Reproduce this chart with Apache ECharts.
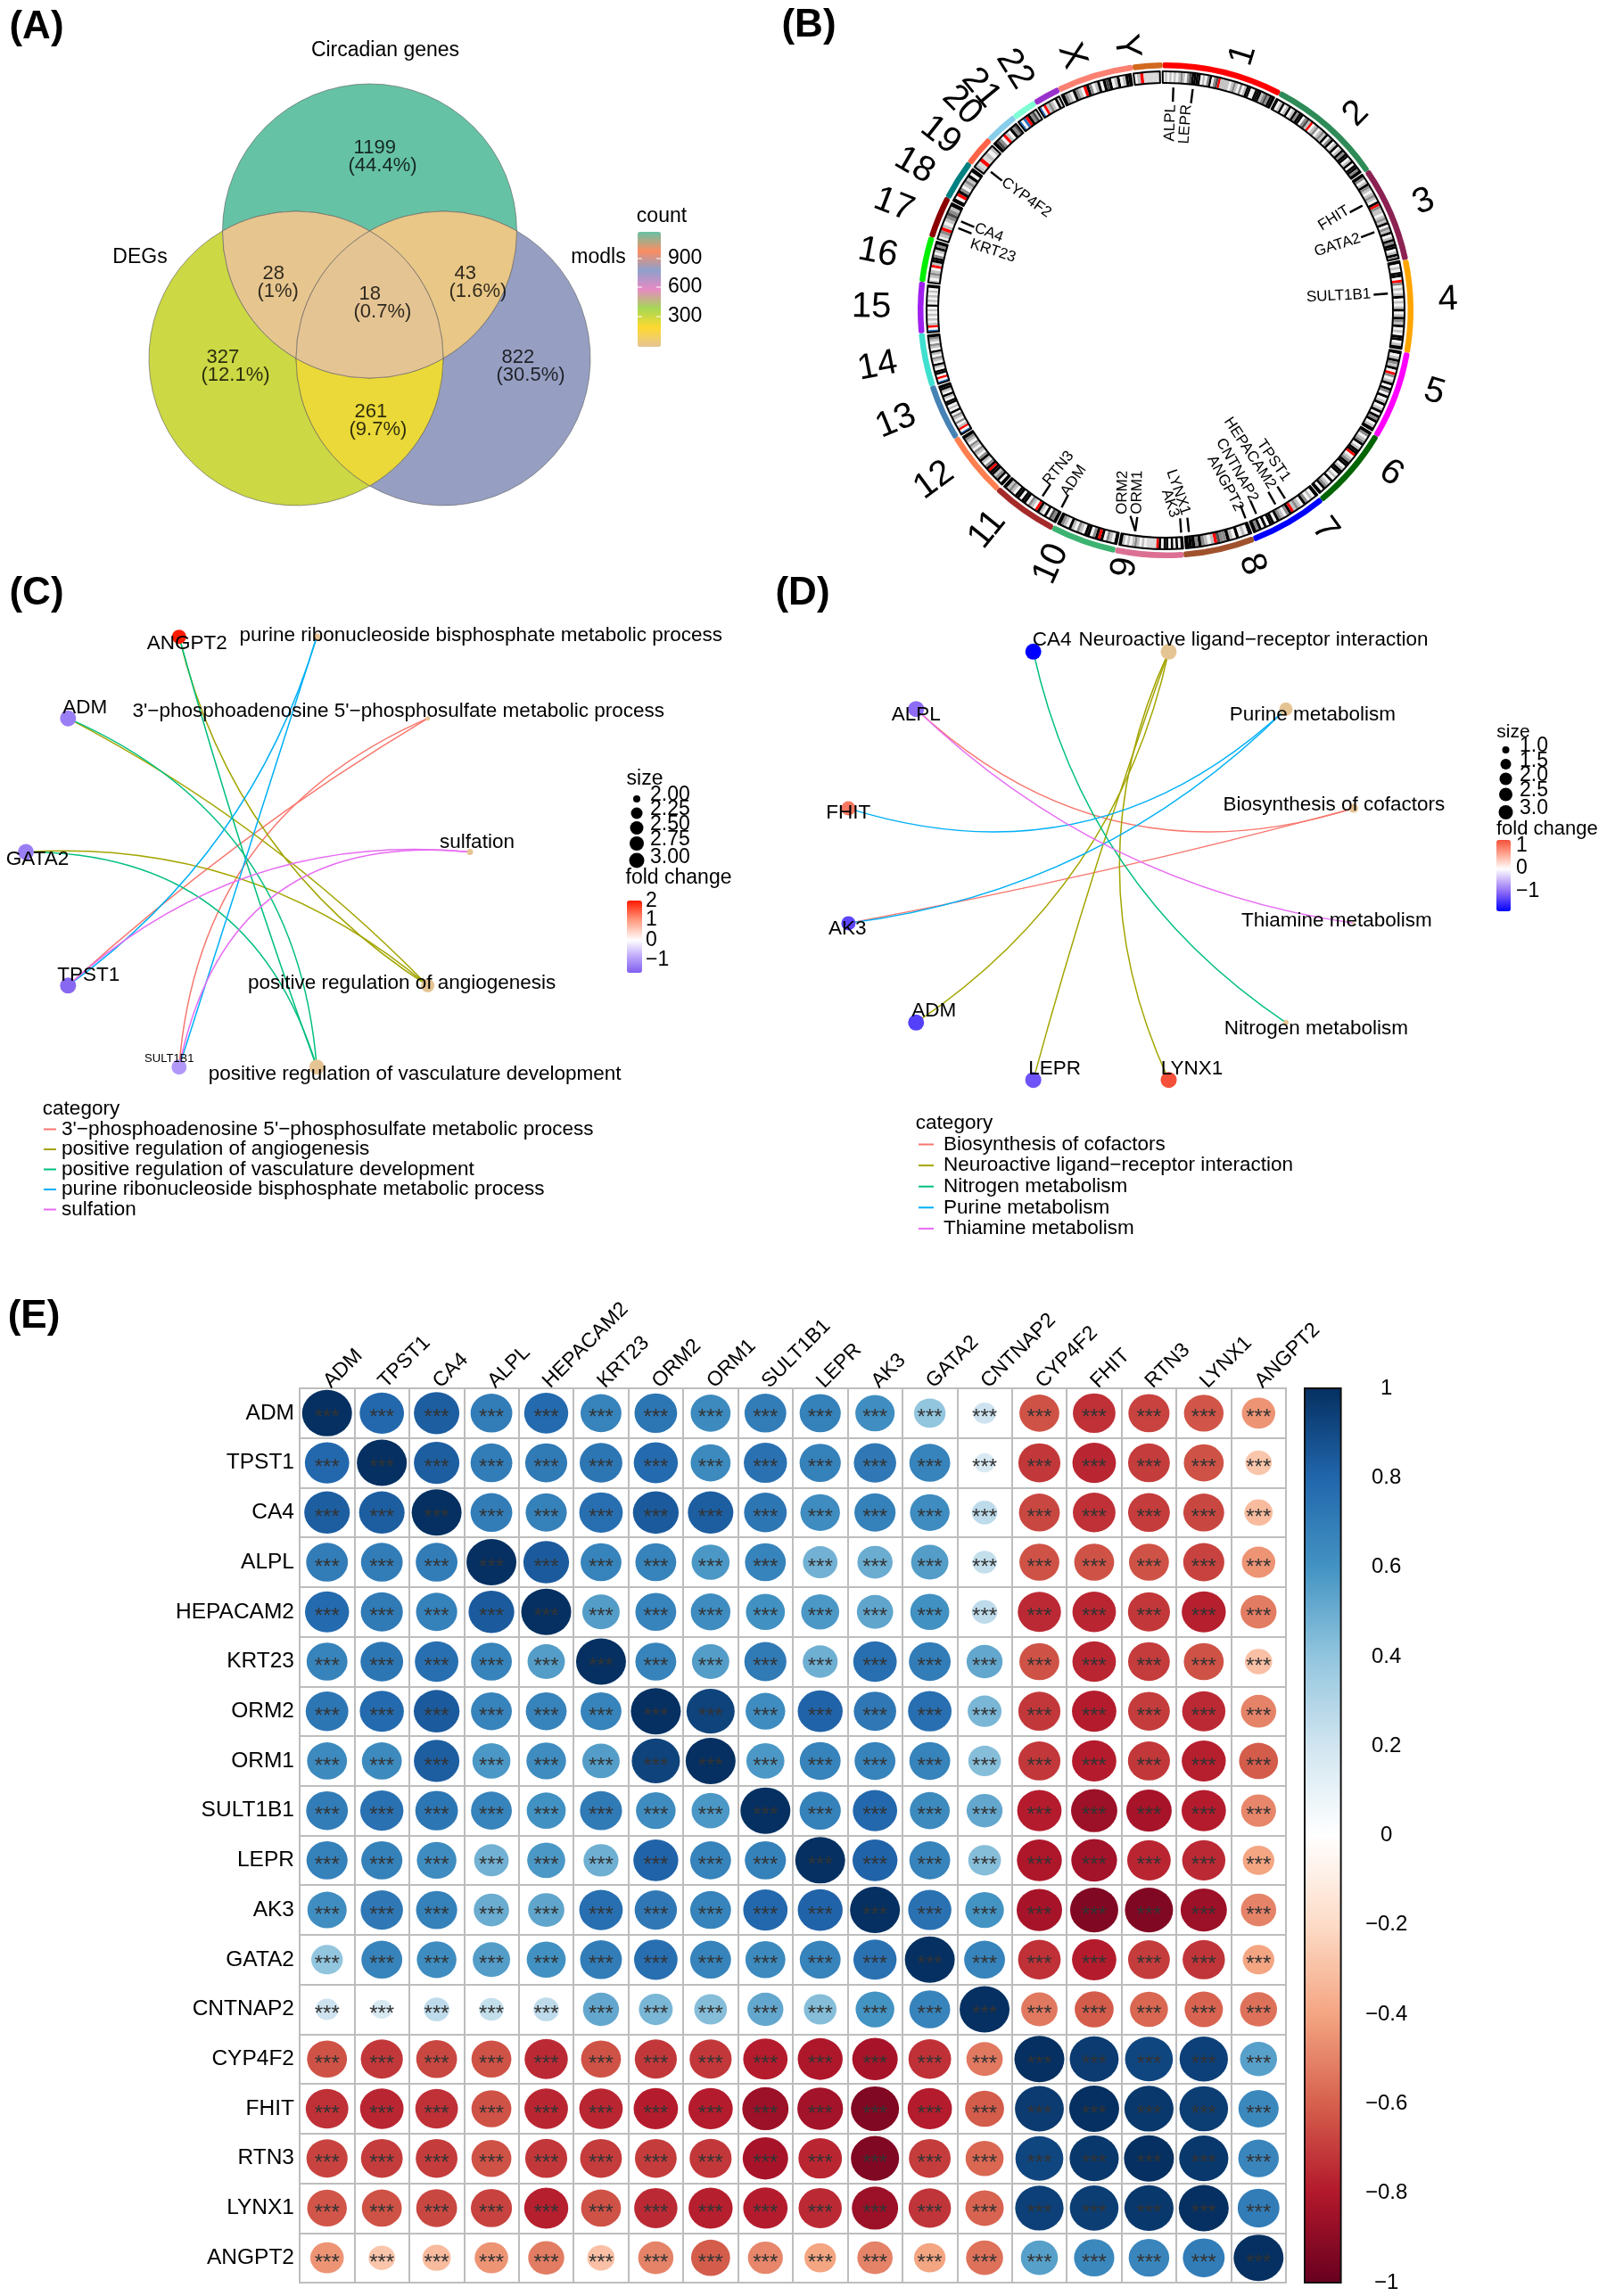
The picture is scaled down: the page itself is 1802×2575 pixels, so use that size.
<!DOCTYPE html>
<html><head><meta charset="utf-8">
<style>html,body{margin:0;padding:0;background:#fff}#c{width:1802px;height:2575px}</style>
<script src="https://cdn.jsdelivr.net/npm/echarts@6/dist/echarts.min.js"></script>
</head><body><div id="c"></div>
<script>
/* ---------- DATA ---------- */
// Panel A
const vennSets = ['Circadian genes','DEGs','modls'];
const vennCounts = [1199,327,822,28,43,261,18];
const vennPercents = ['44.4%','12.1%','30.5%','1%','1.6%','9.7%','0.7%'];
const countTicks = [900,600,300];
// Panel B
const chromNames = ['1','2','3','4','5','6','7','8','9','10','11','12','13','14','15','16','17','18','19','20','21','22','X','Y'];
const chromLengths = [249,242,198,190,181,171,159,145,138,134,135,133,114,107,102,90,83,80,59,64,47,51,156,57];
const chromBands = [
 'wlwlwlwlglwgdkkkkwlwgkwgdrllllwlglwgwlkkwwkkklgdgkk','kwlkwlkwlkgkkwgdlrwlgwlglkwgkwlkwlkgkkwlkwkkgk',
 'kgwlkglwlglwkrgllwlglkwglkwlkgkkwlkg','kwlwkkwrgwlwlkwlwlkwlkglkwlwkkwlk','kwlkglkwrgwlkwkgwkwlkwlkwkgkwlk',
 'kgwlgkwlkkrwlgkkwlkkwlwkwlgkwk','kwlwgkwlglrkgwlgkwkkwkwkgk','kwlwkwlkggdrlwlgkgkkk','kwkwkwkkwkrsssswlwlglwlwlk',
 'kwlgwkrkgwkkwlgwlkwlgk','kgdwkwlkrwlgwkkwkkwlglk','kwkglkkrkgwlkgwlgwlgwlgk','bwrlwgwlgwkwlwkkwlkwlkk',
 'bwrwkkwlkwlgwlkwlgwlgk','bwrlwlwlwlwkwlwlwlwk','lwlglwrlkkgwlkgk','wlgrlwlgdglk','kwrkgwlglkwk','lsrslwl','kdgwrlwkgd','bwbrkgdl','bwrlglwkl',
 'kglwkglwrkgwlkwkdkwlkwlkk','wlrsssss'];
const geneNames = ['ALPL','LEPR','FHIT','GATA2','SULT1B1','TPST1','HEPACAM2','CNTNAP2','ANGPT2','LYNX1','AK3','ORM1','ORM2','ADM','RTN3','CYP4F2','CA4','KRT23'];
const geneAngles = [2,7,62,69.5,85.7,147.6,150.5,156,159,174,176,187.8,187.8,207.8,213.5,308.4,293.5,291.6];
// Panel C
const cNames = ['sulfation',"3'\u2212phosphoadenosine 5'\u2212phosphosulfate metabolic process",'purine ribonucleoside bisphosphate metabolic process','ANGPT2','ADM','GATA2','TPST1','SULT1B1','positive regulation of vasculature development','positive regulation of angiogenesis'];
const cX = [1,.81,.31,-.31,-.81,-1,-.81,-.31,.31,.81];
const cY = [0,.59,.95,.95,.59,0,-.59,-.95,-.95,-.59];
const cFold = [null,null,null,2,-1.3,-1.3,-1.55,-1,null,null];
const cSizes = [7,5,8,16,18,18,18,17,17,15];
const cCategories = ["3'\u2212phosphoadenosine 5'\u2212phosphosulfate metabolic process",'positive regulation of angiogenesis','positive regulation of vasculature development','purine ribonucleoside bisphosphate metabolic process','sulfation'];
const cLinks = [[[6,1,.05],[7,1,.30]],[[3,9,-.2],[4,9,.08],[5,9,.2]],[[3,8,-.02],[4,8,.3],[5,8,.37]],[[6,2,-.17],[7,2,0]],[[6,0,.22],[7,0,.45]]];
// Panel D
const dNames = ['Biosynthesis of cofactors','Purine metabolism','Neuroactive ligand\u2212receptor interaction','CA4','ALPL','FHIT','AK3','ADM','LEPR','LYNX1','Nitrogen metabolism','Thiamine metabolism'];
const dX = [.97,.71,.26,-.26,-.71,-.97,-.97,-.71,-.26,.26,.71,.97];
const dY = [.26,.71,.97,.97,.71,.26,-.26,-.71,-.97,-.97,-.71,-.26];
const dFold = [null,null,null,-1.86,-1,1,-1.3,-1.35,-1.2,1.28,null,null];
const dSizes = [10,15,18,18,18,16,16,18,18,18,6,3];
const dCategories = ['Biosynthesis of cofactors','Neuroactive ligand\u2212receptor interaction','Nitrogen metabolism','Purine metabolism','Thiamine metabolism'];
const dLinks = [[[4,0,-.29],[6,0,-.02]],[[7,2,-.2],[8,2,.02],[9,2,.23]],[[3,10,-.2]],[[5,1,-.29],[6,1,-.17]],[[4,11,-.16]]];
// Panel E
const corrGenes = ['ADM','TPST1','CA4','ALPL','HEPACAM2','KRT23','ORM2','ORM1','SULT1B1','LEPR','AK3','GATA2','CNTNAP2','CYP4F2','FHIT','RTN3','LYNX1','ANGPT2'];
const corrMatrix = [
[1,.79,.83,.70,.78,.67,.73,.64,.70,.68,.62,.40,.21,-.64,-.73,-.68,-.63,-.45],
[.79,1,.83,.70,.71,.73,.78,.64,.75,.68,.72,.67,.17,-.71,-.76,-.70,-.64,-.28],
[.83,.83,1,.70,.68,.76,.84,.83,.73,.63,.68,.63,.26,-.67,-.73,-.70,-.67,-.32],
[.70,.70,.70,1,.84,.67,.67,.58,.67,.48,.50,.56,.24,-.64,-.64,-.64,-.68,-.45],
[.78,.71,.68,.84,1,.56,.67,.63,.61,.58,.53,.61,.26,-.75,-.76,-.71,-.78,-.52],
[.67,.73,.76,.67,.56,1,.67,.56,.71,.49,.76,.70,.52,-.64,-.76,-.70,-.64,-.30],
[.73,.78,.84,.67,.67,.67,1,.93,.63,.81,.72,.76,.46,-.71,-.79,-.70,-.75,-.50],
[.64,.64,.83,.58,.63,.56,.93,1,.58,.67,.67,.67,.43,-.71,-.79,-.71,-.78,-.61],
[.70,.75,.73,.67,.61,.71,.63,.58,1,.68,.79,.64,.52,-.79,-.86,-.83,-.79,-.49],
[.68,.68,.63,.48,.58,.49,.81,.67,.68,1,.81,.67,.43,-.81,-.84,-.76,-.75,-.40],
[.62,.72,.68,.50,.53,.76,.72,.67,.79,.81,1,.75,.60,-.83,-.93,-.93,-.86,-.50],
[.40,.67,.63,.56,.61,.70,.76,.67,.64,.67,.75,1,.67,-.73,-.79,-.70,-.72,-.40],
[.21,.17,.26,.24,.26,.52,.46,.43,.52,.43,.60,.67,1,-.53,-.61,-.58,-.59,-.55],
[-.64,-.71,-.67,-.64,-.75,-.64,-.71,-.71,-.79,-.81,-.83,-.73,-.53,1,.96,.92,.94,.55],
[-.73,-.76,-.73,-.64,-.76,-.76,-.79,-.79,-.86,-.84,-.93,-.79,-.61,.96,1,.97,.95,.65],
[-.68,-.70,-.70,-.64,-.71,-.70,-.70,-.71,-.83,-.76,-.93,-.70,-.58,.92,.97,1,.97,.66],
[-.63,-.64,-.67,-.68,-.78,-.64,-.75,-.78,-.79,-.75,-.86,-.72,-.59,.94,.95,.97,1,.70],
[-.45,-.28,-.32,-.45,-.52,-.30,-.50,-.61,-.49,-.40,-.50,-.40,-.55,.55,.65,.66,.70,1]];

/* ---------- LAYOUT / STYLE ---------- */
const FONT = '"Liberation Sans", Arial, sans-serif';
const hue5 = ['#F8766D','#A3A500','#00BF7D','#00B0F6','#E76BF3'];
const chromColors = ['#ff0000','#2e8b57','#8b2252','#ffa500','#ff00ff','#006400','#0000ff','#a0522d','#db7093','#3cb371','#a52a2a','#ff7f50','#4682b4','#40e0d0','#a020f0','#00ee00','#8b0000','#008080','#ff6347','#87ceeb','#7fffd4','#9932cc','#fa8072','#d2691e'];
const stain = {w:'#f2f2f2',l:'#c0c0c0',g:'#8a8a8a',d:'#4a4a4a',k:'#000000',s:'#d8d8d8',r:'#ff0000',b:'#2a70c0'};
const set2 = ['#e5c494','#ffd92f','#a6d854','#e78ac3','#8da0cb','#fc8d62','#66c2a5'];
const rdbu = ['#67001F','#B2182B','#D6604D','#F4A582','#FDDBC7','#FFFFFF','#D1E5F0','#92C5DE','#4393C3','#2166AC','#053061'];
const RC = [1307,348];           // ring centre
const chromLabelAngle=[16.9,44.1,67.2,87.9,106.9,125.8,144,161.2,189,204.3,219.1,233.7,247.6,259,270.6,281.3,291.2,300,307.9,315.2,320.3,328,339.8,351.5];
const chromLabelR=[299,307,314,317,315,312,304,301,292,312,317,322,327,329,330,329,327,325,320,324,324,319,304,299];

function stops(anchors){ // evenly spaced colour stops for a scale with an off-centre midpoint
  const lo=anchors[0][0], hi=anchors[anchors.length-1][0], out=[];
  for(let i=0;i<=48;i++){
    const v=lo+(hi-lo)*i/48; let j=0;
    while(j<anchors.length-2 && v>anchors[j+1][0]) j++;
    const t=(v-anchors[j][0])/(anchors[j+1][0]-anchors[j][0]);
    out.push(echarts.color.lerp(Math.max(0,Math.min(1,t)),[anchors[j][1],anchors[j+1][1]]));
  }
  return out;
}

const grids=[], xAxes=[], yAxes=[], series=[], visualMaps=[], legends=[], gfx=[];
function T(text,x,y,size,o){o=o||{};gfx.push({type:'text',x:x,y:y,z:20,silent:true,style:{text:text,font:(o.bold?'bold ':'')+size+'px '+FONT,fill:o.fill||'#000',textAlign:o.align||'center',textVerticalAlign:'middle'}});}
function dot(x,y,d){gfx.push({type:'circle',z:20,silent:true,shape:{cx:x,cy:y,r:d/2},style:{fill:'#000'}});}
function whiteTick(x0,x1,w,y){[[x0,x0+w],[x1-w,x1]].forEach(p=>gfx.push({type:'line',z:20,silent:true,shape:{x1:p[0],y1:y,x2:p[1],y2:y},style:{stroke:'#fff',lineWidth:1}}));}
function addGrid(l,t,w,h,xa,ya,extra){grids.push(Object.assign({left:l,top:t,width:w,height:h,containLabel:false},extra||{}));const i=grids.length-1;xAxes.push(Object.assign({gridIndex:i,show:false},xa));yAxes.push(Object.assign({gridIndex:i,show:false},ya));return i;}

/* panel letters */
T('(A)',41,31,44,{bold:1});T('(B)',907,29,44,{bold:1});T('(C)',41,666,44,{bold:1});T('(D)',900,666,44,{bold:1});T('(E)',38,1477,44,{bold:1});

/* ---------- A: Venn ---------- */
const gA=addGrid(167,94,495,473,{type:'value',min:-1.5,max:1.5},{type:'value',min:-1,max:1.866});
const V={A:[-1,.866],B:[1,.866],C:[0,-.866],P:[0,.866],Q:[-.5,0],S:[.5,0]};
// each region: start vertex then [vertex, large-arc, sweep] steps
const regionPaths=[
 ['A',['B',0,1],['P',0,0],['A',0,0]],
 ['A',['Q',0,0],['C',0,0],['A',1,1]],
 ['B',['C',1,1],['S',0,0],['B',0,0]],
 ['A',['P',0,1],['Q',0,0],['A',0,1]],
 ['B',['P',0,0],['S',0,1],['B',0,0]],
 ['Q',['S',0,0],['C',0,1],['Q',0,1]],
 ['P',['S',0,1],['Q',0,1],['P',0,1]]];
series.push({type:'custom',coordinateSystem:'cartesian2d',xAxisIndex:gA,yAxisIndex:gA,silent:true,animation:false,clip:false,z:2,
 dimensions:['x','y','count'],encode:{x:0,y:1},
 data:vennCounts.map(c=>[0,0,c]),
 renderItem:function(p,api){
  const r=api.size([1,0])[0], rp=regionPaths[p.dataIndex];
  const pt=k=>api.coord(V[k]);
  let d='M'+pt(rp[0]).join(' ');
  rp.slice(1).forEach(s=>{d+=' A'+r+' '+r+' 0 '+s[1]+' '+s[2]+' '+pt(s[0]).join(' ');});
  return {type:'path',shape:{pathData:d+' Z'},style:{fill:api.visual('color'),stroke:'rgba(90,90,90,0.6)',lineWidth:1}};
 }});
visualMaps.push({type:'continuous',show:true,seriesIndex:series.length-1,dimension:2,min:18,max:1199,left:715,top:260,itemWidth:26,itemHeight:129,padding:0,calculable:false,hoverLink:false,text:null,inRange:{color:stops(set2.map((c,i)=>[18+i*196.83,c]))}});
// anchor = left edge and vertical middle of each region's two-line label
const vennAnchorX=[391,226,557,289,504,392,397].map(x=>(x-415)/165), vennAnchorY=[176,411,411,316.5,316.5,471.5,340].map(y=>(402-y)/165);
series.push({type:'scatter',xAxisIndex:gA,yAxisIndex:gA,silent:true,animation:false,symbolSize:0,z:3,
 data:vennCounts.map((c,i)=>({value:[vennAnchorX[i],vennAnchorY[i]],name:' '+c+'\n('+vennPercents[i]+')'})),
 label:{show:true,position:'right',distance:0,formatter:'{b}',fontFamily:FONT,fontSize:22,lineHeight:20,color:'#000',align:'left'}});
T(vennSets[0],432,57,23);T(vennSets[1],157,289,23);T(vennSets[2],671,289,23);
T('count',742,243,23);
countTicks.forEach((v,i)=>{const y=[290,322,355][i];T(String(v),749,y,23,{align:'left'});whiteTick(715,741,5,y);});

/* ---------- B: ideogram ---------- */
const GAP=6, pieBase={type:'pie',center:RC,silent:true,animation:false,startAngle:90.7,clockwise:true,avoidLabelOverlap:false,label:{show:false},labelLine:{show:false},showEmptyCircle:false,minAngle:0,z:3};
series.push(Object.assign({},pieBase,{radius:[271.5,278],itemStyle:{borderRadius:2},
 data:chromNames.map((n,i)=>({name:n,value:chromLengths[i]+GAP,itemStyle:{color:chromColors[i]}}))}));
const bandData=[], outlineData=[];
chromNames.forEach((n,i)=>{
 const s=chromBands[i];
 s.split('').forEach((ch,j)=>bandData.push({name:n+'_'+j,value:chromLengths[i]/s.length,itemStyle:{color:stain[ch]}}));
 bandData.push({name:'gap'+i,value:GAP,itemStyle:{color:'transparent'}});
 outlineData.push({name:n,value:chromLengths[i],itemStyle:{color:'transparent',borderColor:'#000',borderWidth:2}});
 outlineData.push({name:'gap'+i,value:GAP,itemStyle:{color:'transparent'}});
});
series.push(Object.assign({},pieBase,{radius:[255,268],data:bandData}));
series.push(Object.assign({},pieBase,{radius:[255,268],data:outlineData,z:4}));
const polar={center:RC,radius:400};
const angleAxis={type:'value',min:0,max:360,startAngle:90,clockwise:true,show:false};
const radiusAxis={type:'value',min:0,max:400,show:false};
// chromosome labels
series.push({type:'custom',coordinateSystem:'polar',silent:true,animation:false,clip:false,z:5,
 data:chromLabelAngle.map((a,i)=>[chromLabelR[i],a]),
 renderItem:function(p,api){
  const a=chromLabelAngle[p.dataIndex],pt=api.coord([chromLabelR[p.dataIndex],a]);
  const rot=(a<180?90-a:270-a)*Math.PI/180;
  return {type:'text',x:pt[0],y:pt[1],rotation:rot,style:{text:chromNames[p.dataIndex],font:'40px '+FONT,fill:'#000',textAlign:'center',textVerticalAlign:'middle'}};
 }});
// gene ticks + labels (label anchor radius/angle and text rotation)
const geneTickInner=[2,7,62,69.5,85.7,147.6,150.5,156,159,174,176,187.8,189.7,207.8,213.5,308.4,293.5,291.6];
const geneLabelAngle=[1.5,5.9,61.1,69.6,85.5,144.4,148.9,155,159.7,174.3,177.5,188,192,208.8,214.6,308.5,293.5,288.9];
const geneLabelR=[231,232,234,232.6,231,234,232,236,239,230,232,231,234,236,236,233,233,231];
const geneLabelRot=[88,86,31.8,17.7,3,-55,-56.6,-60.4,-62,-71,-72,89,89,56,50.7,-35.7,-21,-18];
series.push({type:'custom',coordinateSystem:'polar',silent:true,animation:false,clip:false,z:5,
 data:geneAngles.map(a=>[250,a]),
 renderItem:function(p,api){
  const i=p.dataIndex,o=api.coord([250,geneAngles[i]]),n=api.coord([234,geneTickInner[i]]),t=api.coord([geneLabelR[i],geneLabelAngle[i]]);
  const right=geneLabelAngle[i]<180;
  return {type:'group',children:[
   {type:'line',shape:{x1:o[0],y1:o[1],x2:n[0],y2:n[1]},style:{stroke:'#000',lineWidth:2.4}},
   {type:'text',x:t[0],y:t[1],rotation:geneLabelRot[i]*Math.PI/180,style:{text:geneNames[i],font:'17px '+FONT,fill:'#000',textAlign:right?'right':'left',textVerticalAlign:'middle'}}
  ]};
 }});

/* ---------- C & D: cnet plots ---------- */
function cnet(names,X,Y,fold,sizes,cats,links,box,labelOff,smallLabels,vm){
 const g=addGrid(box[0],box[1],box[2],box[3],{type:'value',min:-1,max:1},{type:'value',min:-1,max:1});
 cats.forEach((c,ci)=>series.push({type:'graph',name:c,coordinateSystem:'cartesian2d',xAxisIndex:g,yAxisIndex:g,layout:'none',silent:true,animation:false,z:2,
  symbolSize:0,label:{show:false},itemStyle:{color:hue5[ci]},lineStyle:{color:hue5[ci],width:1.5,opacity:1},edgeSymbol:['none','none'],
  data:names.map((n,i)=>({name:n,value:[X[i],Y[i]]})),
  links:links[ci].map(l=>({source:names[l[0]],target:names[l[1]],lineStyle:{curveness:l[2]}}))}));
 const pt=i=>({value:[X[i],Y[i],fold[i]],name:names[i],symbolSize:sizes[i],
   label:{offset:labelOff[i],fontSize:smallLabels[i]||22.5}});
 const idx=names.map((_,i)=>i);
 series.push({type:'scatter',xAxisIndex:g,yAxisIndex:g,silent:true,animation:false,z:3,clip:false,
  symbolSize:(v,p)=>sizes[names.indexOf(p.name)],itemStyle:{opacity:1},
  data:idx.filter(i=>fold[i]!=null).map(pt),
  label:{show:true,position:'inside',formatter:'{b}',color:'#000',fontFamily:FONT,fontSize:22.5}});
 vm.seriesIndex=series.length-1; vm.dimension=2; visualMaps.push(vm);
 series.push({type:'scatter',xAxisIndex:g,yAxisIndex:g,silent:true,animation:false,z:3,clip:false,
  symbolSize:(v,p)=>sizes[names.indexOf(p.name)],itemStyle:{color:'#e5c494',opacity:1},
  data:idx.filter(i=>fold[i]==null).map(pt),
  label:{show:true,position:'inside',formatter:'{b}',color:'#000',fontFamily:FONT,fontSize:22.5}});
}
const cOff=[[8,-11],[-33,-8],[184,-1],[9,8],[19,-12],[13,8],[23,-12],[-11,-9],[110,8],[-29,-3]];
cnet(cNames,cX,cY,cFold,cSizes,cCategories,cLinks,[29,701.5,498,508],cOff,{7:13},
 {type:'continuous',show:true,min:-1.65,max:2,left:703,top:1010,itemWidth:17,itemHeight:81,padding:0,calculable:false,hoverLink:false,text:null,
  inRange:{color:stops([[-1.65,'#7f5ff0'],[-.8,'#c0aafa'],[0,'#ffffff'],[1,'#ff9a80'],[2,'#ff1a00']])}});
const dOff=[[-22,-4],[30,7],[95,-13],[21,-13],[0,7],[0,5],[-1,6],[20,-13],[24,-12],[26,-12],[34,7],[-19,-3]];
cnet(dNames,dX,dY,dFold,dSizes,dCategories,dLinks,[942.6,723.4,584,495.2],dOff,{},
 {type:'continuous',show:true,min:-1.86,max:1.28,left:1678,top:942,itemWidth:16,itemHeight:80,padding:0,calculable:false,hoverLink:false,text:null,
  inRange:{color:stops([[-1.86,'#0000ff'],[-1,'#8f6cf5'],[-.5,'#c8b4fa'],[0,'#ffffff'],[.7,'#ffa08a'],[1.28,'#f4503a']])}});
const legBase={orient:'vertical',selectedMode:false,icon:'rect',itemHeight:2,padding:0,itemStyle:{borderWidth:0}};
legends.push(Object.assign({},legBase,{data:cCategories,left:49,top:1255,itemWidth:14,itemGap:-0.5,textStyle:{fontFamily:FONT,fontSize:22.5,color:'#000',padding:[0,0,0,1]}}));
legends.push(Object.assign({},legBase,{data:dCategories,left:1030,top:1272,itemWidth:17,itemGap:0.6,textStyle:{fontFamily:FONT,fontSize:22.5,color:'#000',padding:[0,0,0,6]}}));
T('category',91,1244,22.5);T('category',1070,1260,22.5);
// size + fold-change legends
T('size',723,874,23);T('fold change',761,984.5,23);
['2.00','2.25','2.50','2.75','3.00'].forEach((s,i)=>{T(s,729,[892,908,925,942,962][i],23,{align:'left'});dot(714,[896,912,928.5,946,965][i],[8,13,15,16,17][i]);});
['2','1','0','\u22121'].forEach((s,i)=>{const y=[1011,1032,1055,1077][i];T(s,724,y,23,{align:'left'});});
T('size',1697,821,21);T('fold change',1678,929.5,22,{align:'left'});
['1.0','1.5','2.0','2.5','3.0'].forEach((s,i)=>{T(s,1704,[837,854,870,887,907][i],23,{align:'left'});dot(1688.5,[841,857,873.5,891,911][i],[8,12,14,15,16][i]);});
['1','0','\u22121'].forEach((s,i)=>{T(s,1700,[949,973.5,1000][i],23,{align:'left'});});

/* ---------- E: correlation ---------- */
const gE=addGrid(336,1557,1106,1003,
 {show:true,type:'category',position:'top',data:corrGenes,axisTick:{show:false},axisLine:{lineStyle:{color:'#bdbdbd',width:2}},splitLine:{show:true,interval:0,lineStyle:{color:'#bdbdbd',width:2}},
  axisLabel:{interval:0,rotate:-45,margin:4,align:'left',verticalAlign:'middle',fontFamily:FONT,fontSize:23,color:'#000'}},
 {show:true,type:'category',inverse:true,data:corrGenes,axisTick:{show:false},axisLine:{lineStyle:{color:'#bdbdbd',width:2}},splitLine:{show:true,interval:0,lineStyle:{color:'#bdbdbd',width:2}},
  axisLabel:{interval:0,margin:6,fontFamily:FONT,fontSize:24.5,color:'#000'}},
 {show:true,borderColor:'#bdbdbd',borderWidth:2,backgroundColor:'transparent'});
const corrData=[];corrMatrix.forEach((row,y)=>row.forEach((v,x)=>corrData.push([x,y,v])));
series.push({type:'scatter',xAxisIndex:gE,yAxisIndex:gE,silent:true,animation:false,z:3,data:corrData,
 symbolSize:d=>{const s=Math.sqrt(Math.abs(d[2]));return [56*s,52*s];},itemStyle:{opacity:1},
 label:{show:true,position:'inside',formatter:'***',fontFamily:FONT,fontSize:24,color:'#333',offset:[0,6]}});
visualMaps.push({type:'continuous',show:true,seriesIndex:series.length-1,dimension:2,min:-1,max:1,left:1463,top:1557,itemWidth:40.6,itemHeight:1003,padding:0,calculable:false,hoverLink:false,text:null,inRange:{color:rdbu}});
addGrid(1463,1557,40.6,1003,{type:'value',min:0,max:1},
 {show:true,type:'value',position:'right',min:-1,max:1,interval:.2,splitLine:{show:false},
  axisLine:{show:true,lineStyle:{color:'#111',width:2}},axisTick:{show:true,length:10,lineStyle:{color:'#111',width:2}},
  axisLabel:{fontFamily:FONT,fontSize:24,color:'#000',align:'center',margin:51,formatter:v=>String(Math.round(v*10)/10).replace('-','\u2212')}},
 {show:true,z:6,borderColor:'#111',borderWidth:2,backgroundColor:'transparent'});

const chart=echarts.init(document.getElementById('c'),null,{renderer:'canvas',width:1802,height:2575});
chart.setOption({animation:false,backgroundColor:'#fff',tooltip:{show:false},grid:grids,xAxis:xAxes,yAxis:yAxes,polar:polar,angleAxis:angleAxis,radiusAxis:radiusAxis,visualMap:visualMaps,legend:legends,series:series,graphic:{elements:gfx}});
</script></body></html>
